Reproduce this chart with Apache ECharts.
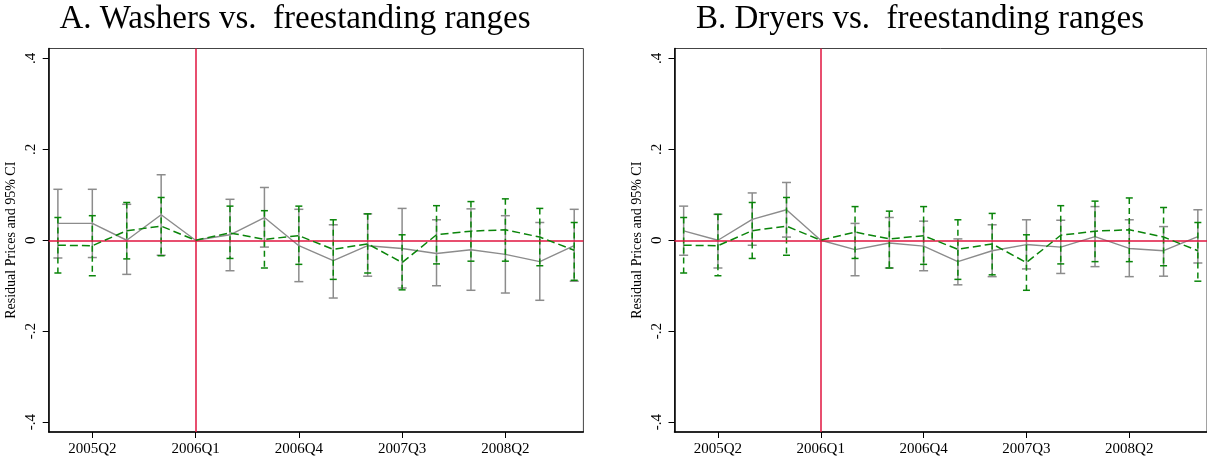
<!DOCTYPE html>
<html>

<head>
    <title>Residual prices - washers and dryers vs. ranges</title>
    <meta charset="utf-8">
    <script src="https://cdn.jsdelivr.net/npm/echarts@6/dist/echarts.min.js"></script>
    <style>
        html, body { margin: 0; padding: 0; background: #fff; }
    </style>
</head>

<body>
    <div id="main" style="width: 1207px;height:462px;"></div>

    <script type="text/javascript">
        // quarters on the x axis (index 0 = 2005Q1)
        var quarters = ['2005Q1', '2005Q2', '2005Q3', '2005Q4', '2006Q1', '2006Q2', '2006Q3', '2006Q4',
            '2007Q1', '2007Q2', '2007Q3', '2007Q4', '2008Q1', '2008Q2', '2008Q3', '2008Q4'];
        var xTickIdx = [1, 4, 7, 10, 13];
        var yTicks = [-0.4, -0.2, 0, 0.2, 0.4];
        var yTickLabels = ['-.4', '-.2', '0', '.2', '.4'];
        var eventIdx = 4;

        // Panel A: washers (gray) and freestanding ranges (green)
        var washerPt = [0.037, 0.037, 0.000, 0.056, 0, 0.012, 0.050, -0.012, -0.045, -0.012, -0.018, -0.029, -0.021, -0.031, -0.047, -0.012];
        var washerLo = [-0.039, -0.038, -0.075, -0.033, null, -0.067, -0.015, -0.091, -0.127, -0.079, -0.105, -0.100, -0.110, -0.116, -0.132, -0.090];
        var washerHi = [0.112, 0.112, 0.079, 0.144, null, 0.090, 0.116, 0.068, 0.034, 0.058, 0.070, 0.045, 0.069, 0.054, 0.039, 0.068];
        var rangeAPt = [-0.011, -0.012, 0.021, 0.031, 0, 0.016, 0.002, 0.010, -0.020, -0.008, -0.049, 0.012, 0.020, 0.023, 0.007, -0.022];
        var rangeALo = [-0.072, -0.078, -0.041, -0.034, null, -0.040, -0.061, -0.053, -0.086, -0.072, -0.109, -0.052, -0.046, -0.046, -0.056, -0.088];
        var rangeAHi = [0.050, 0.054, 0.083, 0.094, null, 0.075, 0.065, 0.075, 0.045, 0.058, 0.012, 0.076, 0.085, 0.091, 0.070, 0.039];

        // Panel B: dryers (gray) and freestanding ranges (green)
        var dryerPt = [0.0205, 0, 0.046, 0.067, 0, -0.0205, -0.006, -0.013, -0.047, -0.023, -0.0095, -0.015, 0.008, -0.018, -0.023, 0.008];
        var dryerLo = [-0.033, -0.061, -0.011, 0.007, null, -0.078, -0.061, -0.067, -0.098, -0.080, -0.063, -0.073, -0.058, -0.080, -0.079, -0.050];
        var dryerHi = [0.075, 0.057, 0.104, 0.127, null, 0.037, 0.050, 0.042, 0.003, 0.034, 0.045, 0.044, 0.074, 0.045, 0.030, 0.067];
        var rangeBPt = [-0.011, -0.012, 0.021, 0.031, 0, 0.018, 0.003, 0.010, -0.020, -0.008, -0.049, 0.011, 0.020, 0.023, 0.007, -0.023];
        var rangeBLo = [-0.072, -0.078, -0.040, -0.033, null, -0.040, -0.061, -0.053, -0.086, -0.076, -0.110, -0.052, -0.047, -0.047, -0.056, -0.090];
        var rangeBHi = [0.050, 0.057, 0.083, 0.094, null, 0.074, 0.064, 0.074, 0.045, 0.059, 0.012, 0.076, 0.086, 0.093, 0.072, 0.039];

        var FONT = 'Liberation Serif';
        var GRAY = '#8c8c8c';
        var GREEN = '#0a850a';
        var RED = '#e0143f';

        var myChart = echarts.init(document.getElementById('main'));

        function linePts(pt) {
            return pt.map(function (v, i) { return [i, v]; });
        }

        function ciPts(lo, hi) {
            var out = [];
            for (var i = 0; i < lo.length; i++) {
                if (lo[i] !== null && hi[i] !== null) out.push([i, lo[i], hi[i]]);
            }
            return out;
        }

        // error bars with caps, drawn through the axis scales
        function ciSeries(gi, lo, hi, color, capW, dash) {
            return {
                type: 'custom',
                xAxisIndex: gi,
                yAxisIndex: gi,
                silent: true,
                z: dash ? 4 : 2,
                data: ciPts(lo, hi),
                renderItem: function (params, api) {
                    var top = api.coord([api.value(0), api.value(2)]);
                    var bot = api.coord([api.value(0), api.value(1)]);
                    var st = { stroke: color, lineWidth: 1.5, lineDash: dash || null };
                    var capSt = { stroke: color, lineWidth: 1.5 };
                    return {
                        type: 'group',
                        children: [
                            { type: 'line', shape: { x1: top[0], y1: top[1], x2: bot[0], y2: bot[1] }, style: st },
                            { type: 'line', shape: { x1: top[0] - capW / 2, y1: top[1], x2: top[0] + capW / 2, y2: top[1] }, style: capSt },
                            { type: 'line', shape: { x1: bot[0] - capW / 2, y1: bot[1], x2: bot[0] + capW / 2, y2: bot[1] }, style: capSt }
                        ]
                    };
                }
            };
        }

        function panelSeries(gi, grayPt, grayLo, grayHi, greenPt, greenLo, greenHi) {
            return [
                ciSeries(gi, grayLo, grayHi, GRAY, 9, null),
                {
                    type: 'line',
                    xAxisIndex: gi,
                    yAxisIndex: gi,
                    data: linePts(grayPt),
                    symbol: 'none',
                    z: 3,
                    lineStyle: { color: GRAY, width: 1.4 },
                    markLine: {
                        silent: true,
                        symbol: ['none', 'none'],
                        label: { show: false },
                        lineStyle: { color: RED, width: 1.5, type: 'solid' },
                        data: [{ yAxis: 0 }, { xAxis: eventIdx }]
                    }
                },
                ciSeries(gi, greenLo, greenHi, GREEN, 7, [6, 4]),
                {
                    type: 'line',
                    xAxisIndex: gi,
                    yAxisIndex: gi,
                    data: linePts(greenPt),
                    symbol: 'none',
                    z: 5,
                    lineStyle: { color: GREEN, width: 1.5, type: [8, 4] }
                }
            ];
        }

        function xAxisFor(gi) {
            return {
                type: 'value',
                gridIndex: gi,
                min: -0.267,
                max: 15.267,
                splitLine: { show: false },
                axisLine: { onZero: false, lineStyle: { color: '#000', width: 1.5 } },
                axisTick: { length: 6, customValues: xTickIdx, lineStyle: { color: '#000' } },
                axisLabel: {
                    customValues: xTickIdx,
                    formatter: function (v) { return quarters[Math.round(v)]; },
                    color: '#000', fontFamily: FONT, fontSize: 15, margin: 10
                }
            };
        }

        function yAxisFor(gi) {
            return {
                type: 'value',
                gridIndex: gi,
                min: -0.4215,
                max: 0.4215,
                splitLine: { show: false },
                name: 'Residual Prices and 95% CI',
                nameLocation: 'middle',
                nameRotate: 90,
                nameGap: 30,
                nameTextStyle: { color: '#000', fontFamily: FONT, fontSize: 14 },
                axisLine: { onZero: false, lineStyle: { color: '#000', width: 1.5 } },
                axisTick: { length: 6, customValues: yTicks, lineStyle: { color: '#000' } },
                axisLabel: {
                    customValues: yTicks,
                    rotate: 90,
                    formatter: function (v) { return yTickLabels[yTicks.indexOf(Math.round(v * 10) / 10)]; },
                    color: '#000', fontFamily: FONT, fontSize: 15, margin: 10
                }
            };
        }

        var option = {
            animation: false,
            backgroundColor: '#fff',
            title: [{
                text: 'A. Washers vs.  freestanding ranges',
                left: 295, top: 3, textAlign: 'center', padding: 0,
                textStyle: { fontFamily: FONT, fontSize: 33, fontWeight: 'normal', color: '#000' }
            }, {
                text: 'B. Dryers vs.  freestanding ranges',
                left: 920, top: 3, textAlign: 'center', padding: 0,
                textStyle: { fontFamily: FONT, fontSize: 33, fontWeight: 'normal', color: '#000' }
            }],
            grid: [
                { left: 48.7, top: 48.5, width: 534.7, height: 383.5, show: true, borderColor: '#444', borderWidth: 1, backgroundColor: '#fff' },
                { left: 674.5, top: 48.5, width: 534.7, height: 383.5, show: true, borderColor: '#444', borderWidth: 1, backgroundColor: '#fff' }
            ],
            xAxis: [xAxisFor(0), xAxisFor(1)],
            yAxis: [yAxisFor(0), yAxisFor(1)],
            series: panelSeries(0, washerPt, washerLo, washerHi, rangeAPt, rangeALo, rangeAHi)
                .concat(panelSeries(1, dryerPt, dryerLo, dryerHi, rangeBPt, rangeBLo, rangeBHi))
        };

        myChart.setOption(option);
    </script>
</body>

</html>
